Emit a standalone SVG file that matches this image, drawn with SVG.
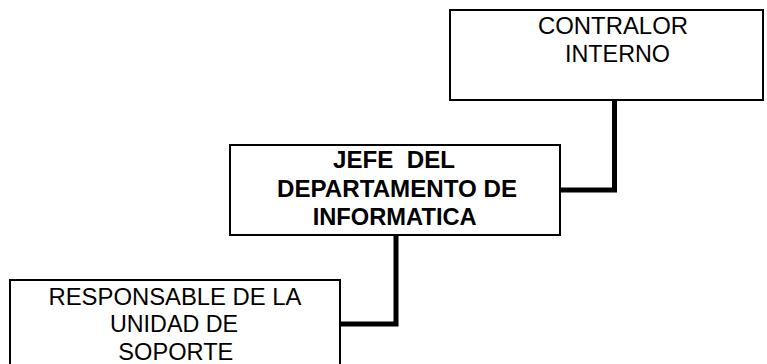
<svg xmlns="http://www.w3.org/2000/svg" width="767" height="364" viewBox="0 0 767 364">
<style>
.box{fill:#fff;stroke:#000;stroke-width:2}
.t{font-family:"Liberation Sans",Arial,sans-serif;font-size:23px;fill:#000;text-anchor:middle;white-space:pre}
.b{font-weight:bold}
.c{fill:none;stroke:#000;stroke-width:5;stroke-linejoin:miter}
</style>
<rect width="767" height="364" fill="#fff"/>
<g id="connectors">
<polyline class="c" points="614.5,100 614.5,190 560,190"/>
<polyline class="c" points="396,235 396,324 340,324"/>
</g>
<g id="node-contralor">
<rect class="box" x="450" y="10" width="313" height="90"/>
<text class="t" x="613" y="33.5" textLength="150" lengthAdjust="spacingAndGlyphs">CONTRALOR</text>
<text class="t" x="617.5" y="61.5" textLength="105" lengthAdjust="spacingAndGlyphs">INTERNO</text>
</g>
<g id="node-jefe">
<rect class="box" x="230" y="145" width="330" height="90"/>
<text class="t b" x="394" y="168" textLength="122" lengthAdjust="spacingAndGlyphs">JEFE  DEL</text>
<text class="t b" x="397" y="196.5" textLength="240" lengthAdjust="spacingAndGlyphs">DEPARTAMENTO DE</text>
<text class="t b" x="394.7" y="224.5" textLength="164" lengthAdjust="spacingAndGlyphs">INFORMATICA</text>
</g>
<g id="node-responsable">
<rect class="box" x="10" y="280" width="330" height="100"/>
<text class="t" x="175" y="304.5" textLength="253" lengthAdjust="spacingAndGlyphs">RESPONSABLE DE LA</text>
<text class="t" x="174" y="332" textLength="128" lengthAdjust="spacingAndGlyphs">UNIDAD DE</text>
<text class="t" x="175.8" y="359.5" textLength="115" lengthAdjust="spacingAndGlyphs">SOPORTE</text>
</g>
</svg>
